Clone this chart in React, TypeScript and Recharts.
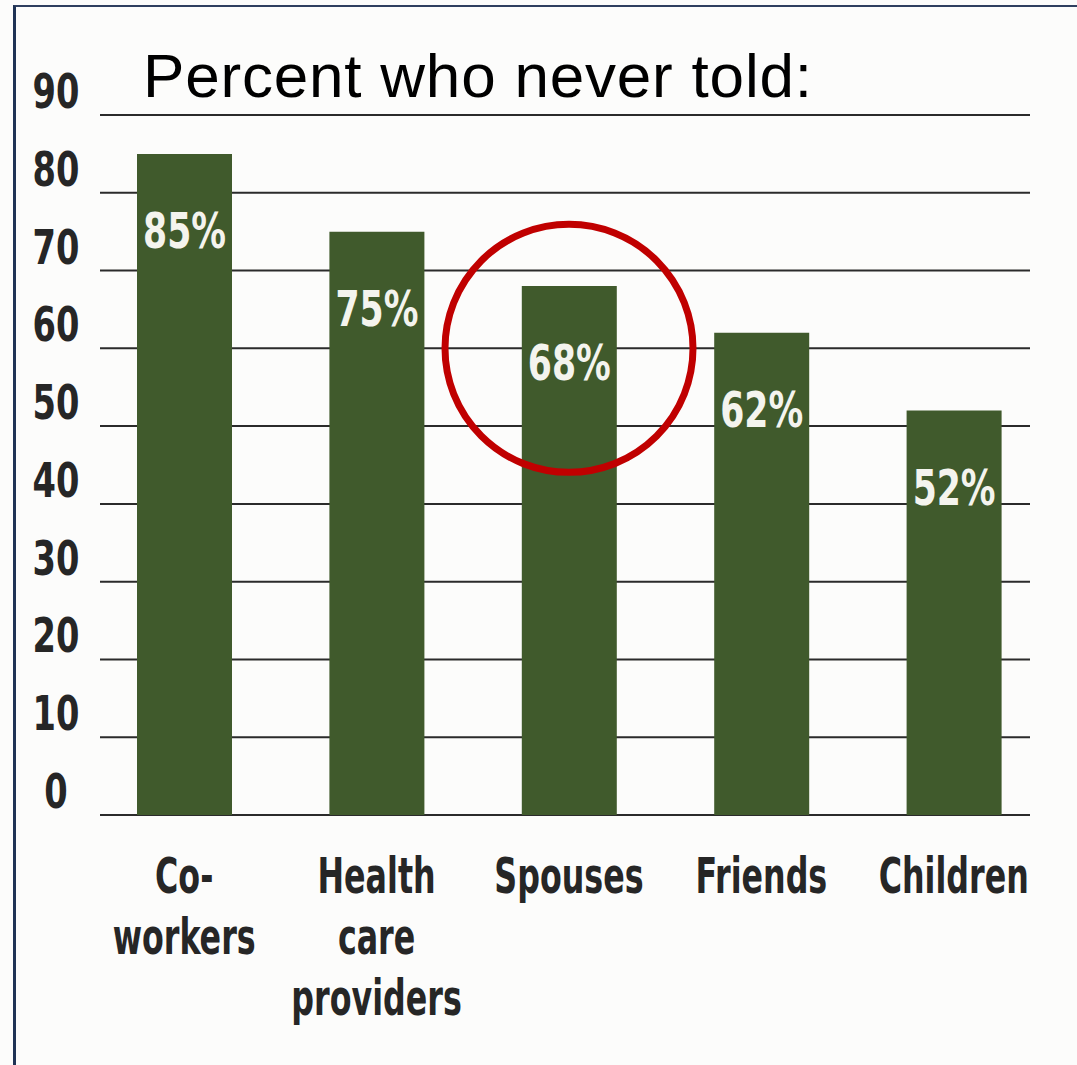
import { Bar, BarChart, CartesianGrid, LabelList, ReferenceDot, XAxis, YAxis } from "recharts";

const categories = ["Co-workers", "Health care providers", "Spouses", "Friends", "Children"];
const categoryLines = [["Co-", "workers"], ["Health", "care", "providers"], ["Spouses"], ["Friends"], ["Children"]];
const percentNeverTold = [85, 75, 68, 62, 52];
const yTicks = [0, 10, 20, 30, 40, 50, 60, 70, 80, 90];
const highlightCategory = "Spouses";
const highlightValue = 60;

const data = categories.map((category, i) => ({
  category,
  value: percentNeverTold[i],
  lines: categoryLines[i]
}));

// no narrow font installed, so the condensed one gets squeezed further with scaleX
const condensed = "'DejaVu Sans Condensed', 'DejaVu Sans', sans-serif";
const barColor = "#405a2c";
const inkColor = "#262626";

function Narrow({ x, y, squeeze, size, fill, children }: any) {
  return (
    <text
      transform={`translate(${x},${y}) scale(${squeeze},1)`}
      textAnchor="middle"
      fontFamily={condensed}
      fontWeight="bold"
      fontSize={size}
      fill={fill}
    >
      {children}
    </text>
  );
}

function YTick({ y, payload }: any) {
  return (
    <Narrow x={56} y={y - 7} squeeze={0.78} size={48} fill={inkColor}>
      {payload.value}
    </Narrow>
  );
}

function XTick({ x, y, index }: any) {
  const lines = categoryLines[index] ?? [];
  return (
    <g>
      {lines.map((line, i) => (
        <Narrow key={line} x={x} y={y + 78 + i * 61} squeeze={0.72} size={49} fill={inkColor}>
          {line}
        </Narrow>
      ))}
    </g>
  );
}

function BarValue({ x, y, width, value }: any) {
  return (
    <Narrow x={x + width / 2} y={y + 94} squeeze={0.77} size={50} fill="#f4f4ee">
      {value}%
    </Narrow>
  );
}

// grid lines start a little right of the first band and stop short of the last
function GridLine(props: any) {
  const { y1, y2, x1, x2 } = props;
  return <line x1={x1 + 12} x2={x2 - 20} y1={y1} y2={y2} stroke="#2b2b2b" strokeWidth={2} />;
}

export default function App() {
  return (
    <div style={{ position: "absolute", left: 0, top: 0, width: 1077, height: 1065, background: "#fcfcfb", overflow: "hidden" }}>
      <div
        style={{
          position: "absolute",
          left: 13,
          top: 5,
          width: 1077,
          height: 1065,
          borderLeft: "3px solid #1f3355",
          borderTop: "2px solid #2f3f5f"
        }}
      />
      <BarChart width={1077} height={1065} data={data} margin={{ top: 115, right: 27, bottom: 0, left: 0 }} barSize={95}>
        <CartesianGrid vertical={false} horizontal={(p: any) => <GridLine key={p.key ?? p.index} {...p} />} />
        <XAxis dataKey="category" axisLine={false} tickLine={false} tickSize={0} tickMargin={0} height={250} tick={<XTick />} interval={0} />
        <YAxis
          domain={[0, 90]}
          ticks={yTicks}
          axisLine={false}
          tickLine={false}
          tickSize={0}
          tickMargin={0}
          width={88}
          tick={<YTick />}
          interval={0}
        />
        <Bar dataKey="value" fill={barColor} isAnimationActive={false}>
          <LabelList dataKey="value" content={<BarValue />} />
        </Bar>
        <ReferenceDot
          x={highlightCategory}
          y={highlightValue}
          r={124}
          fill="none"
          stroke="#c00000"
          strokeWidth={7}
          ifOverflow="visible"
        />
      </BarChart>
      <svg style={{ position: "absolute", left: 0, top: 0 }} width={1077} height={130}>
        <text x={143} y={97} fontFamily="'Liberation Sans', Arial, sans-serif" fontSize={62} letterSpacing={0.8} fill="#000">
          Percent who never told:
        </text>
      </svg>
    </div>
  );
}
